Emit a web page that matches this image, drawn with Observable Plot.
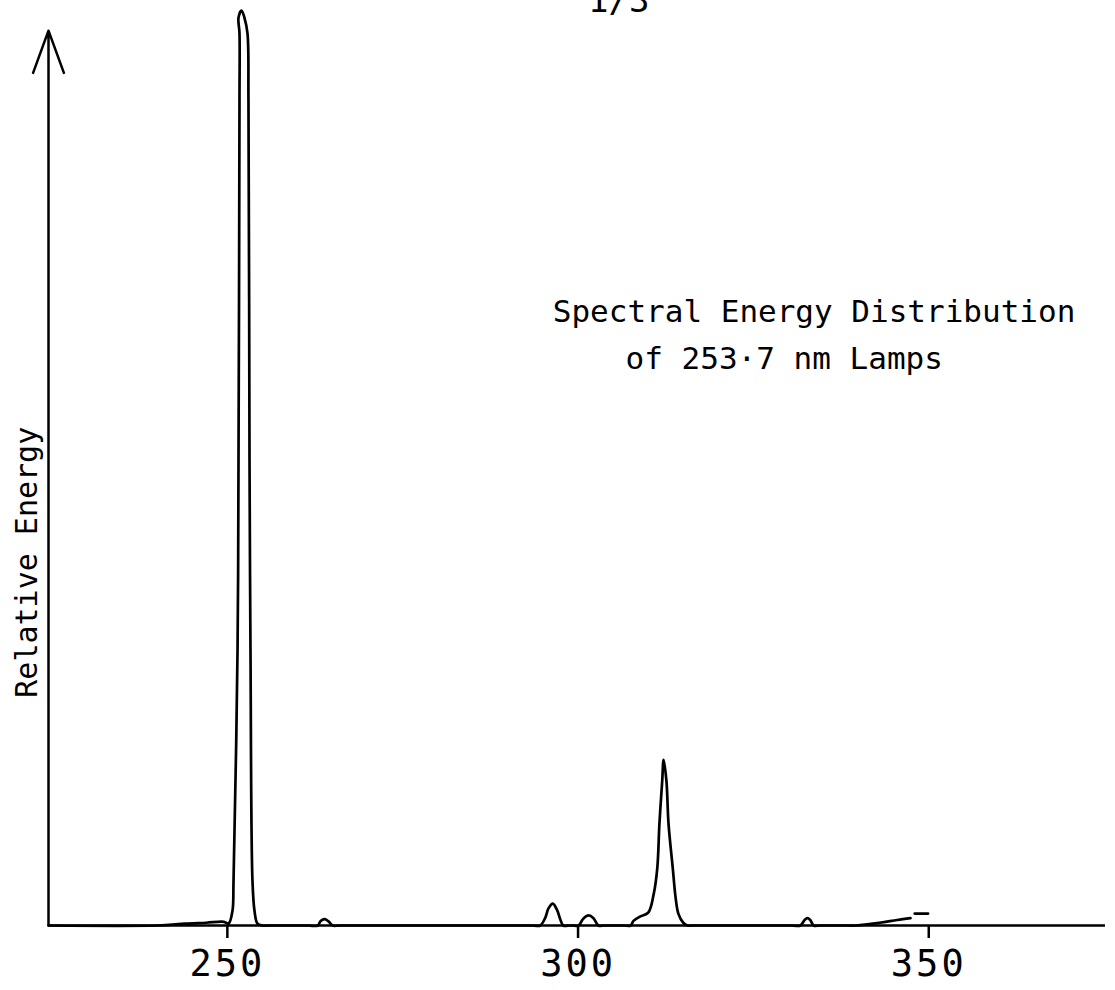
<!DOCTYPE html>
<html><head><meta charset="utf-8">
<script src="https://cdn.jsdelivr.net/npm/d3@7"></script>
<script src="https://cdn.jsdelivr.net/npm/@observablehq/plot@0.6"></script>
<style>
html,body{margin:0;padding:0;background:#fff;}
</style></head><body><div id="chart"></div>
<script>
// Spectrum trace (wavelength in nm, relative energy)
const wavelength = [
  224.5, 240, 244, 247, 249.5,
  250.17, 250.73, 250.88, 251.45, 251.59, 251.73, 251.73, 251.59, 252.02,
  252.44, 252.87, 253.01, 253.16, 253.3, 253.58, 253.87, 254.3, 255, 256,
  261.5, 262.9, 263.3, 263.9, 264.5, 265.0, 266,
  293.5, 294.6, 295.3, 295.8, 296.4, 297.0, 297.5, 297.9, 298.8,
  299.3, 300.1, 300.7, 301.5, 302.2, 302.9, 303.8,
  306.5, 307.5, 307.9, 308.9, 310.0, 310.8, 311.3, 311.6, 312.0, 312.2,
  312.6, 312.9, 313.5, 313.9, 314.3, 315.0, 315.6, 316.5,
  330.5, 331.7, 332.3, 332.7, 333.1, 333.6, 334.5,
  338.5, 339.7, 343, 345.5, 347.4
];
const energy = [
  0, 0, 0.002, 0.003, 0.004,
  0.002, 0.016, 0.049, 0.3, 0.508, 0.902, 0.975, 0.992, 1.0,
  0.992, 0.975, 0.902, 0.508, 0.3, 0.049, 0.016, 0.002, 0, 0,
  0, 0, 0.005, 0.007, 0.004, 0, 0,
  0, 0, 0.008, 0.019, 0.024, 0.017, 0.006, 0, 0,
  0, 0, 0.007, 0.011, 0.008, 0, 0,
  0, 0, 0.005, 0.01, 0.014, 0.035, 0.063, 0.111, 0.158, 0.181,
  0.158, 0.111, 0.063, 0.031, 0.013, 0.003, 0, 0,
  0, 0, 0.006, 0.008, 0.006, 0, 0,
  0, 0, 0.003, 0.006, 0.008
];
const tailWavelength = [348.0, 349.9];
const tailEnergy = [0.013, 0.013];
const xTicks = [250, 300, 350];
const xDomain = [224.5, 375.2];
const titleLines = ["Spectral Energy Distribution", "of 253·7 nm Lamps"];
const yLabel = "Relative Energy";
const pageMark = "1/3";

const spectrum = wavelength.map((w, i) => ({w, e: energy[i]}));
const tail = tailWavelength.map((w, i) => ({w, e: tailEnergy[i]}));
const font = "DejaVu Sans Mono";

const plot = Plot.plot({
  width: 1115, height: 990,
  marginLeft: 48, marginRight: 10, marginTop: 10, marginBottom: 65,
  style: {fontFamily: font, background: "#fff", color: "#000", overflow: "visible"},
  x: {domain: xDomain},
  y: {domain: [0, 1], axis: null},
  marks: [
    Plot.axisX({ticks: xTicks, tickSize: 13, tickPadding: 11, fontSize: 37, tickFormat: d => String(d), label: null, strokeWidth: 2.5, fontFamily: font}),
    Plot.ruleY([0], {strokeWidth: 2.5, stroke: "#000"}),
    Plot.arrow([0], {x1: xDomain[0], x2: xDomain[0], y1: 0, y2: 0.978, headLength: 27, headAngle: 40, strokeWidth: 2.5, stroke: "#000"}),
    Plot.line(spectrum, {x: "w", y: "e", stroke: "#000", strokeWidth: 2.7, curve: "catmull-rom"}),
    Plot.line(tail, {x: "w", y: "e", stroke: "#000", strokeWidth: 2.7}),
    Plot.text([titleLines[0]], {x: 370.9, y: 0.670, text: d => d, textAnchor: "end", fontSize: 31, fontFamily: font, ariaLabel: "title1"}),
    Plot.text([titleLines[1]], {x: 329.4, y: 0.619, text: d => d, fontSize: 31, fontFamily: font, ariaLabel: "title2"}),
    Plot.text([yLabel], {x: xDomain[0], y: 0.397, dx: -21, rotate: -90, text: d => d, fontSize: 30, fontFamily: font, ariaLabel: "ylabel"}),
    Plot.text([pageMark], {x: 305.8, frameAnchor: "top", lineAnchor: "middle", dy: -9, text: d => d, fontSize: 34, fontFamily: font})
  ]
});
const sel = d3.select(plot);
sel.selectAll('g[aria-label="x-axis tick label"] text').attr("letter-spacing", 3);
sel.selectAll('g[aria-label="ylabel"] text').attr("letter-spacing", 2.7);
sel.selectAll('g[aria-label="title2"] text').attr("word-spacing", 12);
document.getElementById("chart").appendChild(plot);
</script></body></html>
